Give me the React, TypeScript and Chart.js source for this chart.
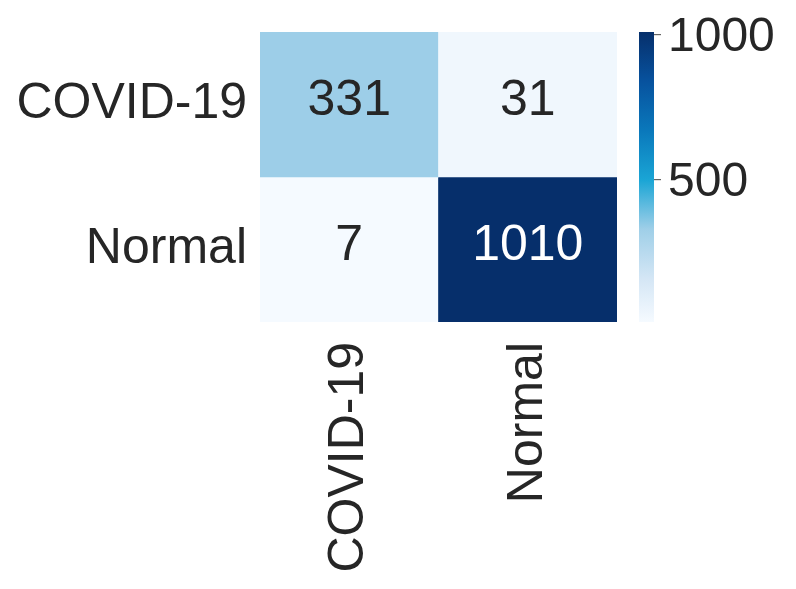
import { useEffect, useRef } from "react";
import { Chart, registerables } from "chart.js";

Chart.register(...registerables);

const rowLabels = ["COVID-19", "Normal"];
const colLabels = ["COVID-19", "Normal"];
const rowCovid = [331, 31];
const rowNormal = [7, 1010];
const matrix = [rowCovid, rowNormal];
const colorbarTicks = [500, 1000];
const vmin = 7;
const vmax = 1010;

// colormap stops: [fraction, r, g, b]
const cmapStops: number[][] = [
  [0.0, 245, 250, 255],
  [0.15, 212, 230, 245],
  [0.32, 159, 207, 232],
  [0.49, 26, 165, 213],
  [0.66, 10, 120, 187],
  [0.83, 7, 82, 158],
  [1.0, 6, 47, 107],
];

const FONT = "'Liberation Sans', Arial, sans-serif";

function rgbAt(t: number): number[] {
  const f = Math.max(0, Math.min(1, t));
  for (let i = 1; i < cmapStops.length; i++) {
    const a = cmapStops[i - 1];
    const b = cmapStops[i];
    if (f <= b[0]) {
      const k = (f - a[0]) / (b[0] - a[0]);
      return [1, 2, 3].map((j) => Math.round(a[j] + (b[j] - a[j]) * k));
    }
  }
  const l = cmapStops[cmapStops.length - 1];
  return [l[1], l[2], l[3]];
}

function colorFor(v: number): string {
  const c = rgbAt((v - vmin) / (vmax - vmin));
  return `rgb(${c[0]},${c[1]},${c[2]})`;
}

function textColorFor(v: number): string {
  const c = rgbAt((v - vmin) / (vmax - vmin));
  const lum = (0.299 * c[0] + 0.587 * c[1] + 0.114 * c[2]) / 255;
  return lum < 0.45 ? "#ffffff" : "#262626";
}

const W = 796;
const H = 589;

function zeroPad(scale: any) {
  scale.paddingTop = 0;
  scale.paddingBottom = 0;
  scale.paddingLeft = 0;
  scale.paddingRight = 0;
}

export default function App() {
  const heatRef = useRef<HTMLCanvasElement>(null);
  const barRef = useRef<HTMLCanvasElement>(null);

  useEffect(() => {
    if (!heatRef.current || !barRef.current) return;

    const cellText = {
      id: "cellText",
      afterDatasetsDraw(chart: any) {
        const ctx = chart.ctx;
        const xs = chart.scales.x;
        const ys = chart.scales.y;
        ctx.save();
        ctx.font = `50px ${FONT}`;
        ctx.textAlign = "center";
        ctx.textBaseline = "middle";
        matrix.forEach((row, r) => {
          row.forEach((v, c) => {
            ctx.fillStyle = textColorFor(v);
            ctx.fillText(String(v), xs.getPixelForValue(c), ys.getPixelForValue(r + 0.5) - 3);
          });
        });
        ctx.restore();
      },
    };

    const heat = new Chart(heatRef.current, {
      type: "bar",
      data: {
        labels: colLabels,
        datasets: matrix.map((row, r) => ({
          data: row.map(() => [r, r + 1]),
          backgroundColor: row.map((v) => colorFor(v)),
          borderWidth: 0,
          grouped: false,
          barPercentage: 1,
          categoryPercentage: 1,
        })) as any,
      },
      options: {
        responsive: false,
        animation: false,
        layout: { padding: { left: 0, top: 32, right: W - 617, bottom: 0 } },
        plugins: { legend: { display: false }, tooltip: { enabled: false } },
        scales: {
          x: {
            type: "category",
            grid: { display: false },
            border: { display: false },
            ticks: {
              autoSkip: false,
              minRotation: 90,
              maxRotation: 90,
              padding: 12,
              color: "#262626",
              font: { family: FONT, size: 50 },
            },
            afterFit(scale: any) {
              scale.height = H - 322;
              zeroPad(scale);
            },
          },
          y: {
            type: "linear",
            min: 0,
            max: 2,
            reverse: true,
            grid: { display: false },
            border: { display: false },
            afterBuildTicks(scale: any) {
              scale.ticks = rowLabels.map((_, i) => ({ value: i + 0.5 }));
            },
            ticks: {
              padding: 5,
              color: "#262626",
              font: { family: FONT, size: 50 },
              callback: (v: any) => rowLabels[Math.floor(Number(v))],
            },
            afterFit(scale: any) {
              scale.width = 260;
              zeroPad(scale);
            },
          },
        },
      } as any,
      plugins: [cellText],
    });

    const bar = new Chart(barRef.current, {
      type: "bar",
      data: {
        labels: ["scale"],
        datasets: [
          {
            data: [[vmin, vmax]],
            borderWidth: 0,
            barPercentage: 1,
            categoryPercentage: 1,
            backgroundColor: (ctx: any) => {
              const area = ctx.chart.chartArea;
              if (!area) return colorFor(vmin);
              const g = ctx.chart.ctx.createLinearGradient(0, area.bottom, 0, area.top);
              cmapStops.forEach((s) => g.addColorStop(s[0], `rgb(${s[1]},${s[2]},${s[3]})`));
              return g;
            },
          },
        ] as any,
      },
      options: {
        responsive: false,
        animation: false,
        layout: { padding: { left: 639, top: 32, right: 0, bottom: H - 322 } },
        plugins: { legend: { display: false }, tooltip: { enabled: false } },
        scales: {
          x: { display: false },
          y: {
            type: "linear",
            position: "right",
            min: vmin,
            max: vmax,
            border: { display: false },
            grid: {
              drawOnChartArea: false,
              drawTicks: true,
              tickLength: 7,
              color: "#666666",
              lineWidth: 1.2,
            },
            afterBuildTicks(scale: any) {
              scale.ticks = colorbarTicks.map((v) => ({ value: v }));
            },
            ticks: {
              padding: 7,
              labelOffset: 3,
              color: "#262626",
              font: { family: FONT, size: 48 },
              callback: (v: any) => String(v),
            },
            afterFit(scale: any) {
              scale.width = W - 654;
              zeroPad(scale);
            },
          },
        },
      } as any,
    });

    return () => {
      heat.destroy();
      bar.destroy();
    };
  }, []);

  const layer: any = { position: "absolute", left: 0, top: 0, width: W, height: H };
  return (
    <div style={{ position: "absolute", left: 0, top: 0, width: W, height: H, background: "#ffffff" }}>
      <canvas ref={heatRef} width={W} height={H} style={layer} />
      <canvas ref={barRef} width={W} height={H} style={layer} />
    </div>
  );
}
